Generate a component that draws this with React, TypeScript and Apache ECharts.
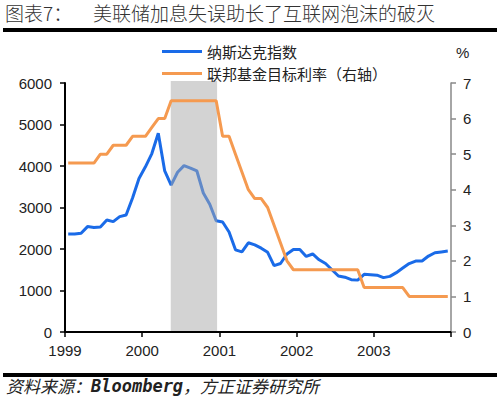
import React, { useEffect, useRef } from "react";
import * as echarts from "echarts";

// Monthly data, Jan 1999 – Dec 2003
const months: string[] = [];
for (let y = 1999; y <= 2003; y++) {
  for (let m = 1; m <= 12; m++) months.push(`${y}-${String(m).padStart(2, "0")}`);
}

const nasdaq = [
  2360, 2360, 2380, 2540, 2520, 2530, 2700, 2660, 2780, 2820, 3230, 3700,
  3980, 4300, 4790, 3880, 3540, 3850, 4010, 3950, 3880, 3350, 3080, 2680,
  2650, 2410, 1980, 1930, 2150, 2100, 2020, 1920, 1600, 1650, 1880, 1990,
  1990, 1820, 1880, 1740, 1650, 1500, 1350, 1320, 1260, 1250, 1390, 1380,
  1370, 1310, 1340, 1430, 1540, 1650, 1710, 1710, 1830, 1910, 1930, 1950,
];

const fedFunds = [
  4.75, 4.75, 4.75, 4.75, 4.75, 5.0, 5.0, 5.25, 5.25, 5.25, 5.5, 5.5,
  5.5, 5.75, 6.0, 6.0, 6.5, 6.5, 6.5, 6.5, 6.5, 6.5, 6.5, 6.5,
  5.5, 5.5, 5.0, 4.5, 4.0, 3.75, 3.75, 3.5, 3.0, 2.5, 2.0, 1.75,
  1.75, 1.75, 1.75, 1.75, 1.75, 1.75, 1.75, 1.75, 1.75, 1.75, 1.25, 1.25,
  1.25, 1.25, 1.25, 1.25, 1.25, 1.0, 1.0, 1.0, 1.0, 1.0, 1.0, 1.0,
];

// shaded period (decimal years)
const band = [2000.37, 2000.97];

const yearTicks = ["1999", "2000", "2001", "2002", "2003"];

const seriesNames = ["纳斯达克指数", "联邦基金目标利率（右轴）"];
const titleLabel = "图表7：";
const titleText = "美联储加息失误助长了互联网泡沫的破灭";

const toYear = (s: string) => {
  const [y, m] = s.split("-").map(Number);
  return y + (m - 0.5) / 12;
};

const CJK = '"Noto Sans CJK SC", sans-serif';
const LAT = '"Liberation Sans", Arial, sans-serif';

export default function App() {
  const ref = useRef<HTMLDivElement>(null);
  useEffect(() => {
    if (!ref.current) return;
    const chart = echarts.init(ref.current, undefined, { renderer: "svg" });
    const xs = months.map(toYear);
    chart.setOption({
      animation: false,
      backgroundColor: "#ffffff",
      grid: { left: 65, right: 49, top: 83, bottom: 66 },
      legend: {
        orient: "vertical",
        left: 157,
        top: 39,
        icon: "rect",
        itemWidth: 40,
        itemHeight: 3,
        itemGap: 7,
        data: seriesNames,
        textStyle: { fontSize: 15, color: "#222", fontFamily: CJK, lineHeight: 15 },
      },
      xAxis: {
        type: "value",
        min: 1999,
        max: 2004,
        interval: 1,
        splitLine: { show: false },
        axisLine: { lineStyle: { color: "#000", width: 2 } },
        axisTick: { show: true, length: 5, lineStyle: { color: "#000", width: 1.5 } },
        axisLabel: {
          margin: 11,
          fontSize: 15,
          color: "#222",
          fontFamily: LAT,
          formatter: (v: number) => {
            const s = String(Math.round(v));
            return yearTicks.includes(s) ? s : "";
          },
        },
      },
      yAxis: [
        {
          type: "value",
          min: 0,
          max: 6000,
          interval: 1000,
          splitLine: { show: false },
          axisLine: { show: true, lineStyle: { color: "#000", width: 2 } },
          axisTick: { show: true, length: 5, lineStyle: { color: "#000", width: 1.5 } },
          axisLabel: {
            margin: 13,
            fontSize: 15,
            color: "#222",
            fontFamily: LAT,
            formatter: (v: number) => String(v),
          },
        },
        {
          type: "value",
          min: 0,
          max: 7,
          interval: 1,
          position: "right",
          splitLine: { show: false },
          axisLine: { show: true, lineStyle: { color: "#888", width: 1.5 } },
          axisTick: { show: true, length: 5, lineStyle: { color: "#888", width: 1.5 } },
          axisLabel: { margin: 12, fontSize: 15, color: "#222", fontFamily: LAT },
        },
      ],
      series: [
        {
          name: seriesNames[0],
          type: "line",
          yAxisIndex: 0,
          z: 2,
          symbol: "none",
          data: xs.map((x, i) => [x, nasdaq[i]]),
          lineStyle: { color: "#1a6be8", width: 3 },
          itemStyle: { color: "#1a6be8" },
        },
        {
          name: "band",
          type: "custom",
          yAxisIndex: 0,
          z: 3,
          silent: true,
          data: [[band[0], band[1]]],
          encode: { x: [0, 1] },
          renderItem: (params: any, api: any) => {
            const p0 = api.coord([api.value(0), 0]);
            const p1 = api.coord([api.value(1), 6000]);
            return {
              type: "rect",
              shape: { x: p0[0], y: p1[1] - 2, width: p1[0] - p0[0], height: p0[1] - p1[1] + 1 },
              style: { fill: "rgba(167,167,167,0.5)" },
            };
          },
        },
        {
          name: seriesNames[1],
          type: "line",
          yAxisIndex: 1,
          z: 4,
          symbol: "none",
          data: xs.map((x, i) => [x, fedFunds[i]]),
          lineStyle: { color: "#f59a50", width: 3 },
          itemStyle: { color: "#f59a50" },
        },
      ],
      graphic: [
        {
          type: "text",
          left: 5,
          top: 3,
          style: { text: titleLabel, fontSize: 19, fill: "#333", fontFamily: CJK, fontWeight: 300 },
        },
        {
          type: "text",
          left: 93,
          top: 3,
          style: { text: titleText, fontSize: 19, fill: "#333", fontFamily: CJK, fontWeight: 300 },
        },
        { type: "rect", left: 3, top: 28, shape: { width: 494, height: 4 }, style: { fill: "#000" } },
        { type: "rect", left: 3, top: 373, shape: { width: 494, height: 4 }, style: { fill: "#000" } },
        {
          type: "text",
          left: 456,
          top: 45,
          style: { text: "%", fontSize: 15, fill: "#222", fontFamily: LAT },
        },
        {
          type: "text",
          left: 6,
          top: 377,
          style: {
            text: "{a|资料来源：}{b|Bloomberg}{a|，方正证券研究所}",
            rich: {
              a: { fontSize: 17, fontFamily: CJK, fontStyle: "italic", fill: "#222" },
              b: {
                fontSize: 17,
                fontFamily: '"DejaVu Sans Mono", monospace',
                fontStyle: "italic",
                fontWeight: "bold",
                fill: "#222",
              },
            },
          },
        },
      ],
    });
    return () => chart.dispose();
  }, []);
  return (
    <div
      ref={ref}
      style={{ position: "fixed", left: 0, top: 0, width: 500, height: 398 }}
    />
  );
}
